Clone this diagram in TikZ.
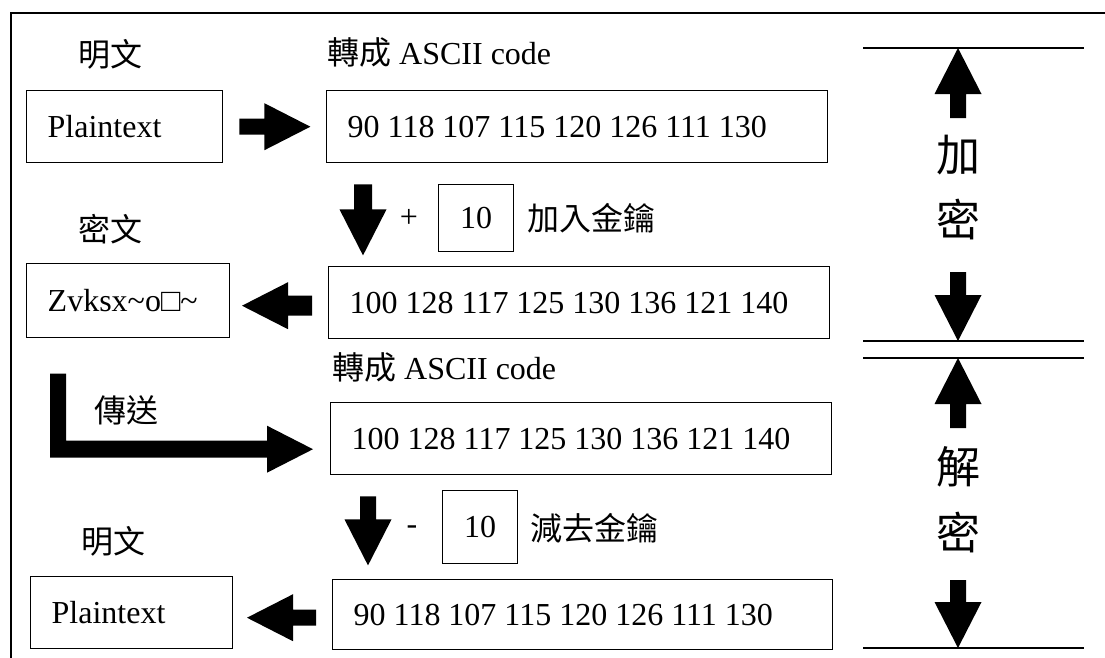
\documentclass[tikz,border=0pt]{standalone}
\usepackage{fontspec}
\setmainfont{Liberation Serif}
\newfontfamily\cjk{Noto Sans CJK TC}
\usetikzlibrary{calc}

\begin{document}
\begin{tikzpicture}[
  x=1pt, y=-1pt,
  every node/.style={inner sep=0pt, font=\fontsize{32}{38}\selectfont},
  box/.style={draw, line width=1.4pt, anchor=north west, inner xsep=21pt, inner ysep=0pt, align=flush left},
  keybox/.style={draw, line width=1.4pt, anchor=north west, minimum width=75pt},
  caption/.style={anchor=west},
  side/.style={font=\cjk\fontsize{44}{50}\selectfont},
  rulel/.style={line width=1.3pt},
  frame/.style={line width=1.8pt},
  pics/fatarrow/.style args={#1/#2}{code={
    \fill (0,-#2) -- (#1,-#2) -- (#1,-23.5) -- (#1+46,0) -- (#1,23.5) -- (#1,#2) -- (0,#2) -- cycle;}},
]
\useasboundingbox (0,0) rectangle (1105,657);
\fill[white] (0,0) rectangle (1105,657);
\draw[frame] (1106,13) -| (11,658);

% ---- encryption ----
\node (L1) at (110,54) {\cjk 明文};
\node[caption] (T1) at (327,52) {{\cjk 轉成} ASCII code};
\node[box, text width=154pt, minimum height=72pt] (P1) at (26,90) {Plaintext};
\node[box, text width=459pt, minimum height=72pt] (A1) at (326,90) {90 118 107 115 120 126 111 130};
\pic at ($(P1.east)+(16,0)$) {fatarrow=25/8};

\node (plus) at (409,218) {+};
\node[keybox, minimum height=67pt] (K1) at (438,184) {10};
\node[caption] (addkey) at (527,218) {\cjk 加入金鑰};
\pic[rotate=-90] at ($(A1.south west)+(37,21)$) {fatarrow=25/9};

\node (L2) at (110,229) {\cjk 密文};
\node[box, text width=161pt, minimum height=74pt] (C1) at (26,263) {Zvksx\textasciitilde o□\textasciitilde};
\node[box, text width=459pt, minimum height=72pt] (A2) at (328,266) {100 128 117 125 130 136 121 140};
\pic[rotate=180] at ($(A2.west)+(-16,3)$) {fatarrow=24/10};

% ---- transmission ----
\node[caption] (T2) at (332,367) {{\cjk 轉成} ASCII code};
\node (send) at (126,410) {\cjk 傳送};
\node[box, text width=459pt, minimum height=72pt] (A3) at (330,402) {100 128 117 125 130 136 121 140};
\coordinate (sendtip) at ($(A3.west)+(-17,10.5)$);
\fill (sendtip) -- ++(-46,-23.5) -- ++(0,15) -- ++(-201,0) -- ++(0,-67) -- ++(-16,0)
      -- ++(0,84) -- ++(217,0) -- ++(0,15) -- cycle;

% ---- decryption ----
\node (minus) at (412,530) {-};
\node[keybox, minimum height=73pt] (K2) at (442,490) {10};
\node[caption] (subkey) at (530,528) {\cjk 減去金鑰};
\pic[rotate=-90] at ($(A3.south west)+(38,21)$) {fatarrow=23/8};

\node (L3) at (113,541) {\cjk 明文};
\node[box, text width=160pt, minimum height=72pt] (P2) at (30,576) {Plaintext};
\node[box, text width=458pt, minimum height=70pt] (A4) at (332,579) {90 118 107 115 120 126 111 130};
\pic[rotate=180] at ($(A4.west)+(-16,3)$) {fatarrow=23/8};

% ---- phase markers on the right ----
\coordinate (encTop) at (958,48);
\coordinate (encBot) at (958,341);
\coordinate (decTop) at (958,358);
\coordinate (decBot) at (958,648);
\foreach \c in {encTop,encBot,decTop,decBot}
  \draw[rulel] ($(\c)+(-95,0)$) -- ($(\c)+(126,0)$);
\pic[rotate=90]  at ($(encTop)+(0,70)$)  {fatarrow=24/8};
\pic[rotate=-90] at ($(encBot)+(0,-69)$) {fatarrow=23/8};
\pic[rotate=90]  at ($(decTop)+(0,70)$)  {fatarrow=24/8};
\pic[rotate=-90] at ($(decBot)+(0,-68)$) {fatarrow=22/8};
\node[side] (enc1) at (958,155) {加};
\node[side] (enc2) at (958,220) {密};
\node[side] (dec1) at (958,467) {解};
\node[side] (dec2) at (958,533) {密};
\end{tikzpicture}
\end{document}
